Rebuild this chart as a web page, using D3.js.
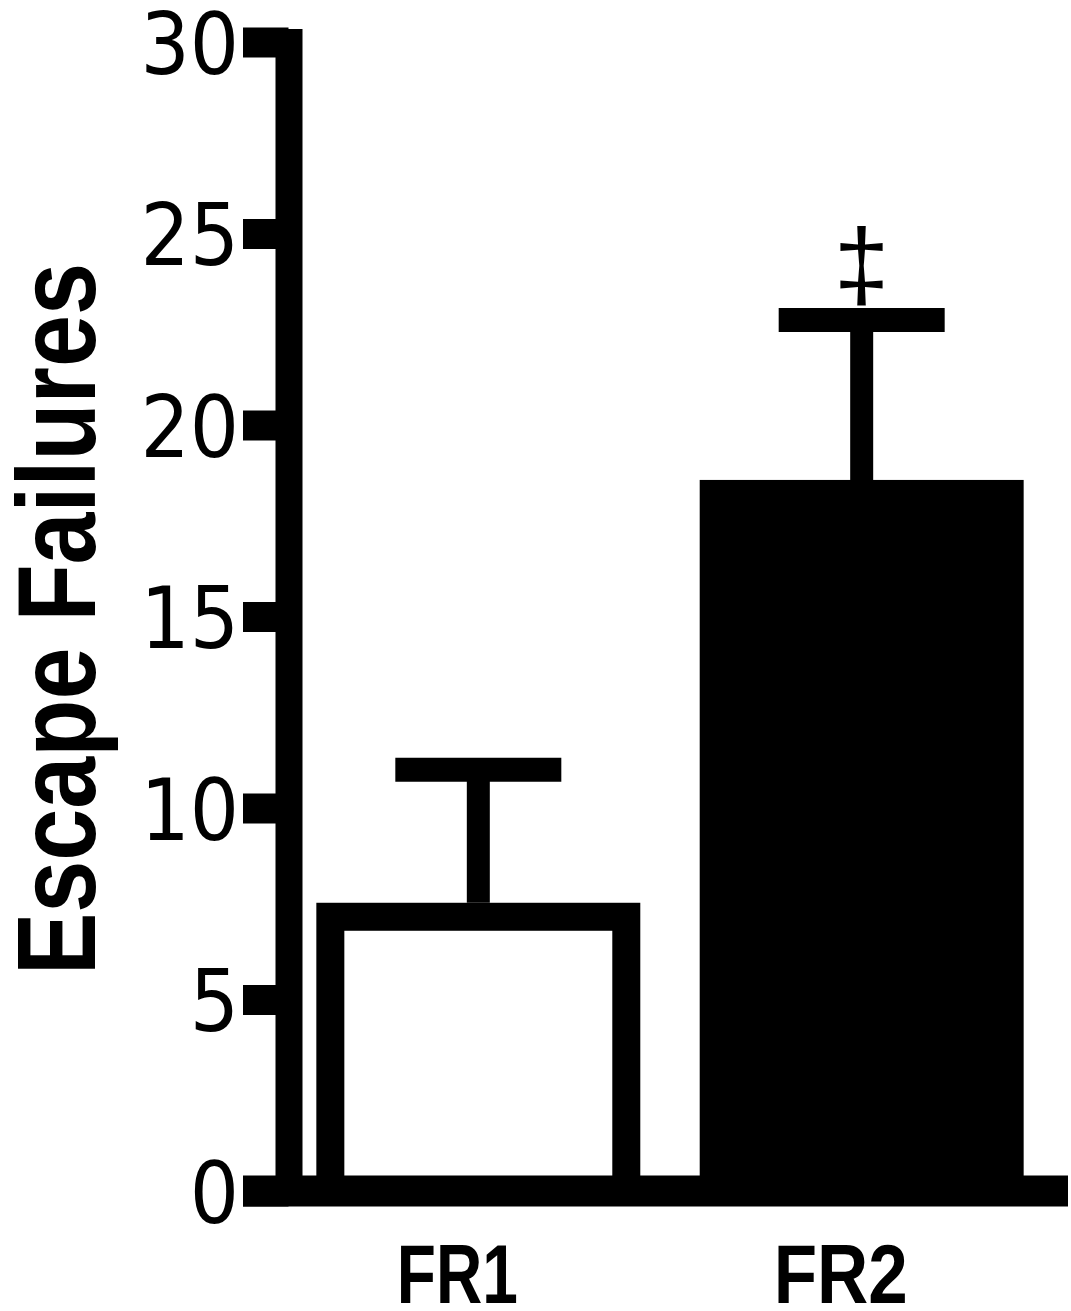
<!DOCTYPE html>
<html>
<head>
<meta charset="utf-8">
<script src="https://cdn.jsdelivr.net/npm/d3@7"></script>
<style>
	body { margin: 0; background: #fff; }
	svg { display: block; }
</style>
</head>
<body>
<div id="chart"></div>
<script>
// bar chart data
const groups = ["FR1", "FR2"];
const means = [7.16, 18.2];
const errTops = [11.0, 22.74];
const fills = ["#fff", "#000"];
const sigMarks = ["", "‡"];
const yTicks = [0, 5, 10, 15, 20, 25, 30];
const yTitle = "Escape Failures";

const svgWidth = 1071;
const svgHeight = 1311;

const y = d3.scaleLinear().domain([0, 30]).range([1191, 42]);
const x = d3
	.scaleBand()
	.domain(groups)
	.range([292, 1048])
	.paddingInner(0.228)
	.paddingOuter(0.1);

const axisX = 288.5;
const barStroke = 28;

const svg = d3
	.select("#chart")
	.append("svg")
	.attr("width", svgWidth)
	.attr("height", svgHeight)
	.attr("viewBox", `0 0 ${svgWidth} ${svgHeight}`);

svg.append("rect").attr("width", svgWidth).attr("height", svgHeight).attr("fill", "#fff");

// bars
svg
	.selectAll("rect.bar")
	.data(groups)
	.join("rect")
	.attr("class", "bar")
	.attr("x", (d) => x(d))
	.attr("width", x.bandwidth())
	.attr("y", (d, i) => y(means[i]))
	.attr("height", (d, i) => y(0) - y(means[i]))
	.attr("fill", (d, i) => fills[i])
	.attr("stroke", "#000")
	.attr("stroke-width", barStroke);

// error bars (upper only)
const cx = (d) => x(d) + x.bandwidth() / 2;
svg
	.selectAll("line.stem")
	.data(groups)
	.join("line")
	.attr("x1", cx)
	.attr("x2", cx)
	.attr("y1", (d, i) => y(means[i]) - barStroke / 2)
	.attr("y2", (d, i) => y(errTops[i]))
	.attr("stroke", "#000")
	.attr("stroke-width", 23);

svg
	.selectAll("line.cap")
	.data(groups)
	.join("line")
	.attr("x1", (d) => cx(d) - 83)
	.attr("x2", (d) => cx(d) + 83)
	.attr("y1", (d, i) => y(errTops[i]))
	.attr("y2", (d, i) => y(errTops[i]))
	.attr("stroke", "#000")
	.attr("stroke-width", 24);

// significance marks
svg
	.selectAll("text.sig")
	.data(groups)
	.join("text")
	.attr("x", cx)
	.attr("y", (d, i) => y(errTops[i]) - 21)
	.attr("text-anchor", "middle")
	.style("font-family", "Liberation Sans")
	.style("font-size", "100px")
	.text((d, i) => sigMarks[i]);

// y axis
const yAxis = svg
	.append("g")
	.attr("transform", `translate(${axisX},0)`)
	.call(
		d3
			.axisLeft(y)
			.tickValues(yTicks)
			.tickSize(45.5)
			.tickSizeOuter(0)
			.tickPadding(4)
	);
yAxis
	.select(".domain")
	.attr("stroke", "#000")
	.attr("stroke-width", 27)
	.attr("stroke-linecap", "square");
yAxis.selectAll(".tick line").attr("stroke", "#000").attr("stroke-width", 30);
yAxis
	.selectAll(".tick text")
	.attr("fill", "#000")
	.attr("dy", "0.365em")
	.style("font-family", "DejaVu Sans Condensed, DejaVu Sans")
	.style("font-stretch", "condensed")
	.style("font-size", "86px");

// x axis line
svg
	.append("line")
	.attr("x1", 243)
	.attr("x2", 1068)
	.attr("y1", y(0))
	.attr("y2", y(0))
	.attr("stroke", "#000")
	.attr("stroke-width", 31);

// category labels
svg
	.selectAll("text.cat")
	.data(groups)
	.join("text")
	.attr("class", "cat")
	.attr("x", (d) => cx(d) - 21)
	.attr("y", 1303)
	.attr("text-anchor", "middle")
	.attr("textLength", (d, i) => (i === 0 ? 121 : 134))
	.attr("lengthAdjust", "spacingAndGlyphs")
	.style("font-family", "Liberation Sans")
	.style("font-weight", "bold")
	.style("font-size", "84px")
	.text((d) => d);

// y title
svg
	.append("text")
	.attr("transform", "translate(95,619) rotate(-90)")
	.attr("text-anchor", "middle")
	.attr("textLength", 712)
	.attr("lengthAdjust", "spacingAndGlyphs")
	.style("font-family", "Liberation Sans")
	.style("font-weight", "bold")
	.style("font-size", "112px")
	.text(yTitle);
</script>
</body>
</html>
